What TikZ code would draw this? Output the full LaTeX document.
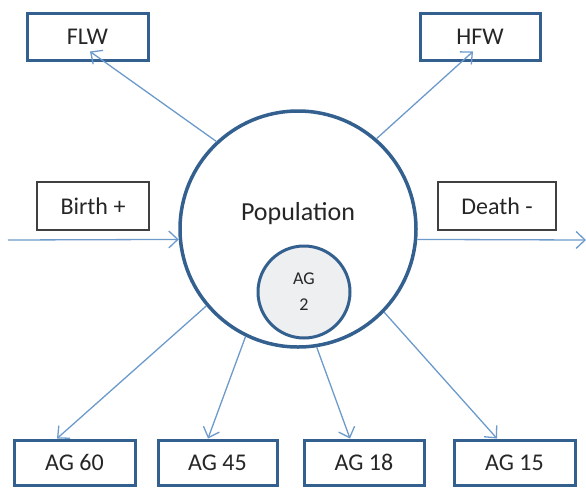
\documentclass[tikz,border=0pt]{standalone}
\usepackage{fontspec}
\setmainfont{Carlito}
\usetikzlibrary{arrows.meta}
\definecolor{boxblue}{HTML}{33608F}
\definecolor{arrowblue}{HTML}{6C9ACB}
\definecolor{txt}{HTML}{262626}
\definecolor{smallfill}{HTML}{EDEFF1}
\begin{document}
\begin{tikzpicture}[x=1pt,y=-1pt,
  bluebox/.style={draw=boxblue,line width=3pt,minimum width=119pt,minimum height=45pt,inner sep=0pt,text=txt,font=\fontsize{24}{28}\selectfont},
  graybox/.style={draw=black!75,line width=1.5pt,minimum width=112pt,minimum height=48pt,inner sep=0pt,text=txt,font=\fontsize{24}{28}\selectfont},
  flow/.style={draw=arrowblue,line width=1.3pt,-{Straight Barb[length=9pt,width=17pt,line width=1.3pt]}}]
\useasboundingbox (0,0) rectangle (586,488);
% big circle
\node[circle,draw=boxblue,line width=3.5pt,minimum size=236pt,inner sep=0pt] (pop) at (298,229) {};
\node[text=txt,font=\fontsize{26}{30}\selectfont] (poplabel) at (298,214) {Population};
\node[circle,draw=boxblue,fill=smallfill,line width=3pt,minimum size=92pt,inner sep=0pt,text=txt,font=\fontsize{18}{24}\selectfont,align=center] (ag2) at (304,292) {AG\\[2pt]2};
% boxes
\node[bluebox,minimum width=121pt,minimum height=47pt] (flw) at (87.5,36.5) {FLW};
\node[bluebox,minimum width=120pt,minimum height=47pt] (hfw) at (480,36.5) {HFW};
\node[graybox] (birth) at (93,206) {Birth +};
\node[graybox,minimum width=118pt] (death) at (497,206) {Death -};
\node[bluebox,minimum width=121pt] (ag60) at (74.5,462.5) {AG 60};
\node[bluebox] (ag45) at (217.5,462.5) {AG 45};
\node[bluebox,minimum width=120pt] (ag18) at (364,462.5) {AG 18};
\node[bluebox,minimum width=121pt] (ag15) at (514.5,462.5) {AG 15};
% free ends
\coordinate (birthin) at (8,240);
\coordinate (deathout) at (586,240);
% connectors
\draw[flow] (pop.133) -- ([xshift=2.5pt,yshift=10pt]flw.south);
\draw[flow] (pop.49) -- ([xshift=-7pt,yshift=10pt]hfw.south);
\draw[flow] (birthin) -- (pop.185);
\draw[flow] (pop.-5) -- (deathout);
\draw[flow] (pop.220) -- ([xshift=-17.5pt]ag60.north);
\draw[flow] (pop.244) -- ([xshift=-9.5pt]ag45.north);
\draw[flow] (pop.279.5) -- ([xshift=-14pt]ag18.north);
\draw[flow] (pop.316) -- ([xshift=-17.5pt]ag15.north);
\end{tikzpicture}
\end{document}
